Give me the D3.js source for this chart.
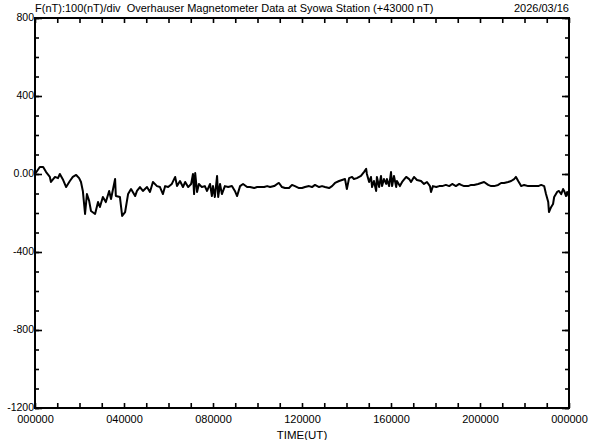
<!DOCTYPE html>
<html>
<head>
<meta charset="utf-8">
<script src="https://cdn.jsdelivr.net/npm/d3@7"></script>
<style>
  html, body { margin: 0; padding: 0; background: #fff; }
  svg { display: block; }
  text { font-family: "Liberation Sans", Arial, sans-serif; fill: #000; white-space: pre; }
</style>
</head>
<body>
<svg id="chart" width="592" height="440"></svg>
<script>
// ---- data (minutes since 00:00 UT, F - 43000 nT) ----
const timeMinutes = [0,13,22,30,40,43,54,62,67,76,84,94,102,111,119,124,129,135,140,146,151,162,170,175,183,191,200,205,216,218,229,235,243,251,259,270,275,283,291,302,310,318,329,337,345,351,359,369,378,383,391,399,405,413,421,426,429,432,437,442,450,458,464,472,477,480,485,491,494,499,504,512,521,531,539,545,553,561,572,580,591,599,607,618,626,634,645,653,658,666,674,685,693,701,712,720,728,739,747,755,766,774,782,793,801,809,820,828,836,841,847,855,860,868,879,887,893,895,901,906,909,914,920,922,928,933,936,941,947,949,955,960,963,968,974,976,984,990,1001,1009,1014,1022,1030,1041,1049,1057,1065,1068,1073,1082,1090,1098,1108,1117,1125,1135,1144,1149,1157,1168,1176,1184,1195,1203,1211,1222,1230,1238,1249,1257,1265,1276,1284,1292,1297,1303,1311,1319,1330,1338,1346,1357,1365,1373,1378,1384,1386,1392,1397,1400,1408,1413,1419,1424,1427,1432,1435,1440];
const fValues = [0,36,36,10,-15,-41,-15,-21,0,-31,-67,-36,-15,-5,-21,-41,-87,-205,-103,-138,-190,-205,-144,-169,-118,-144,-87,-128,-26,-113,-118,-215,-195,-103,-77,-113,-87,-67,-87,-67,-92,-41,-62,-67,-103,-62,-67,-51,-15,-62,-36,-67,-41,-67,-51,0,-103,5,-92,-51,-67,-62,-87,-51,-113,-62,-118,-10,-118,-51,-103,-62,-67,-62,-87,-113,-62,-51,-67,-67,-72,-67,-67,-67,-62,-67,-62,-51,-46,-67,-72,-72,-56,-62,-72,-72,-67,-62,-67,-56,-67,-62,-67,-72,-62,-46,-36,-31,-26,-77,-21,-15,-26,-21,-10,10,26,0,-41,-15,-67,-36,-87,-15,-67,-10,-62,-26,-51,-26,-62,10,-62,-10,-67,-36,-62,-41,-15,-26,-41,-15,-31,-36,-51,-41,-62,-92,-62,-67,-62,-62,-56,-62,-51,-62,-51,-56,-62,-62,-56,-56,-51,-46,-41,-56,-62,-62,-56,-46,-46,-41,-36,-26,-15,-36,-62,-56,-62,-62,-62,-62,-56,-62,-103,-144,-195,-169,-154,-118,-92,-87,-103,-77,-87,-113,-92,-118];

const xTickMinutes = [0,240,480,720,960,1200,1440];
const xTickLabels = ["000000","040000","080000","120000","160000","200000","000000"];
const yTickValues = [800,400,0,-400,-800,-1200];
const yTickLabels = ["800","400","0.00","-400","-800","-1200"];

const titleLeft = "F(nT):100(nT)/div  Overhauser Magnetometer Data at Syowa Station (+43000 nT)";
const titleRight = "2026/03/16";
const xTitle = "TIME(UT)";

// ---- layout ----
const L = 35, R = 569, T = 18, B = 408;
const svg = d3.select("#chart");
const x = d3.scaleLinear().domain([0, 1440]).range([L, R]);
const y = d3.scaleLinear().domain([-1200, 800]).range([B, T]);

const hourly = d3.range(0, 1441, 60);
const minorY = d3.range(-1200, 801, 100);

function tickAxis(axis) {
  return g => { g.call(axis); g.select(".domain").remove(); g.selectAll(".tick line").attr("stroke", "#000").attr("stroke-width", 1.6); };
}
svg.append("g").attr("transform", `translate(0,${B})`)
  .call(tickAxis(d3.axisBottom(x).tickValues(hourly).tickSize(-5).tickFormat("")));
svg.append("g").attr("transform", `translate(0,${T})`)
  .call(tickAxis(d3.axisTop(x).tickValues(hourly).tickSize(-5).tickFormat("")));
svg.append("g").attr("transform", `translate(${L},0)`)
  .call(tickAxis(d3.axisLeft(y).tickValues(minorY).tickSize(-4).tickFormat("")));
svg.append("g").attr("transform", `translate(${R},0)`)
  .call(tickAxis(d3.axisRight(y).tickValues(minorY).tickSize(-4).tickFormat("")));
svg.append("g").attr("transform", `translate(${L},0)`)
  .call(tickAxis(d3.axisLeft(y).tickValues(yTickValues).tickSize(-7).tickFormat("")));
svg.append("g").attr("transform", `translate(${R},0)`)
  .call(tickAxis(d3.axisRight(y).tickValues(yTickValues).tickSize(-7).tickFormat("")));

// labels
const xl = svg.append("g").attr("transform", `translate(0,${B})`)
  .call(d3.axisBottom(x).tickValues(xTickMinutes).tickSize(0).tickPadding(7)
    .tickFormat((d, i) => xTickLabels[i]));
xl.select(".domain").remove();
xl.selectAll("text").attr("font-size", 11).style("font-family", "'Liberation Sans', Arial, sans-serif");

const yl = svg.append("g").attr("transform", `translate(${L},0)`)
  .call(d3.axisLeft(y).tickValues(yTickValues).tickSize(0).tickPadding(1)
    .tickFormat((d, i) => yTickLabels[i]));
yl.select(".domain").remove();
yl.selectAll("text").attr("font-size", 10.5).attr("dy", "0.2em").style("font-family", "'Liberation Sans', Arial, sans-serif");

// frame
svg.append("rect").attr("x", L).attr("y", T).attr("width", R - L).attr("height", B - T)
  .attr("fill", "none").attr("stroke", "#000").attr("stroke-width", 2);

// data line
const data = timeMinutes.map((t, i) => [t, fValues[i]]);
svg.append("path").datum(data)
  .attr("fill", "none").attr("stroke", "#000").attr("stroke-width", 2)
  .attr("stroke-linejoin", "round")
  .attr("d", d3.line().x(d => x(d[0])).y(d => y(d[1])));

// titles
svg.append("text").attr("x", L).attr("y", 12).attr("font-size", 11).text(titleLeft);
svg.append("text").attr("x", R).attr("y", 12).attr("font-size", 11).attr("text-anchor", "end").text(titleRight);
svg.append("text").attr("x", (L + R) / 2).attr("y", 439).attr("font-size", 11.5).attr("text-anchor", "middle").text(xTitle);
</script>
</body>
</html>
